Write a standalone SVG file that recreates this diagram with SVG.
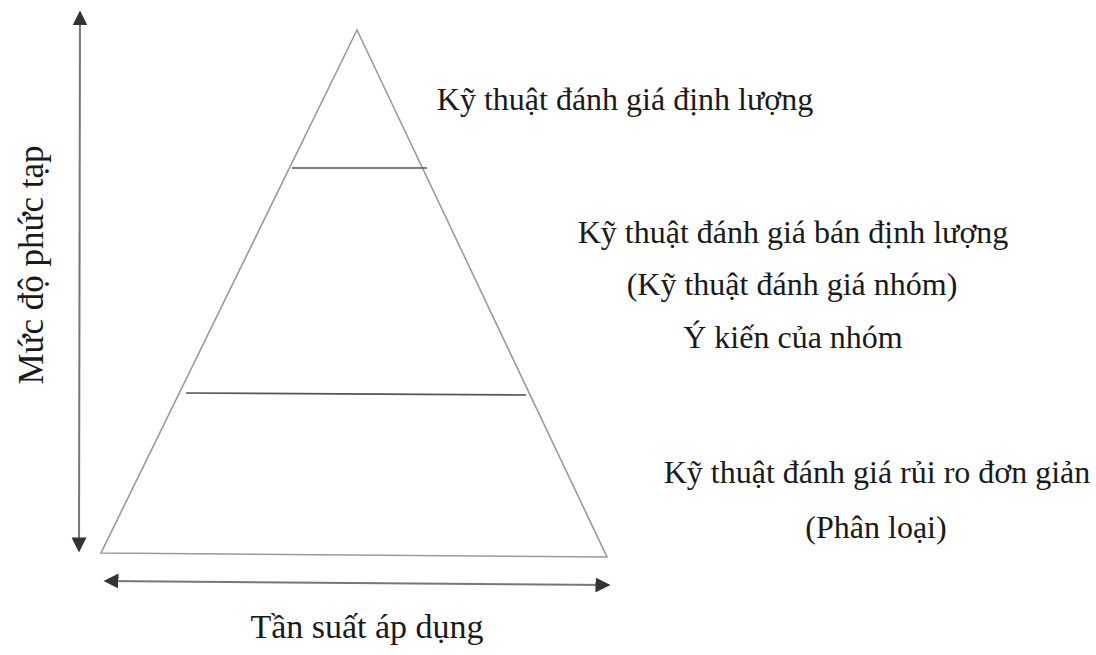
<svg xmlns="http://www.w3.org/2000/svg" width="1096" height="655" viewBox="0 0 1096 655">
<style>
.t{font-family:"Liberation Serif","Times New Roman",serif;font-size:32px;fill:#1a1a1a;text-anchor:middle}
.edge{stroke:#9a9a9a;stroke-width:1.6;fill:none}
.div{stroke:#555;stroke-width:1.6}
.axis{stroke:#777;stroke-width:2}
</style>
<defs>
<marker id="ah" viewBox="0 0 10 10" refX="9" refY="5" markerWidth="15" markerHeight="15" markerUnits="userSpaceOnUse" orient="auto-start-reverse">
<path d="M0,0 L10,5 L0,10 z" fill="#333"/>
</marker>
</defs>
<g id="pyramid">
<path class="edge" d="M357,30 L101,553 L607,557 Z"/>
<line class="div" x1="292" y1="168" x2="427" y2="168"/>
<line class="div" x1="186" y1="393" x2="526" y2="395"/>
</g>
<g id="connectors">
<line class="axis" x1="80" y1="12" x2="79" y2="551" marker-start="url(#ah)" marker-end="url(#ah)"/>
<line class="axis" x1="105" y1="581" x2="609" y2="585" marker-start="url(#ah)" marker-end="url(#ah)"/>
</g>
<g id="label-top"><text class="t" x="625" y="110">Kỹ thuật đánh giá định lượng</text></g>
<g id="label-mid">
<text class="t" x="793" y="243">Kỹ thuật đánh giá bán định lượng</text>
<text class="t" x="792" y="295">(Kỹ thuật đánh giá nhóm)</text>
<text class="t" x="793" y="348">Ý kiến của nhóm</text>
</g>
<g id="label-bottom">
<text class="t" x="877" y="483">Kỹ thuật đánh giá rủi ro đơn giản</text>
<text class="t" x="876" y="538">(Phân loại)</text>
</g>
<g id="x-axis-label"><text class="t" x="367" y="638" style="font-size:34px">Tần suất áp dụng</text></g>
<g id="y-axis-label"><text class="t" transform="translate(43,265) rotate(-90)" style="font-size:35px">Mức độ phức tạp</text></g>
</svg>
